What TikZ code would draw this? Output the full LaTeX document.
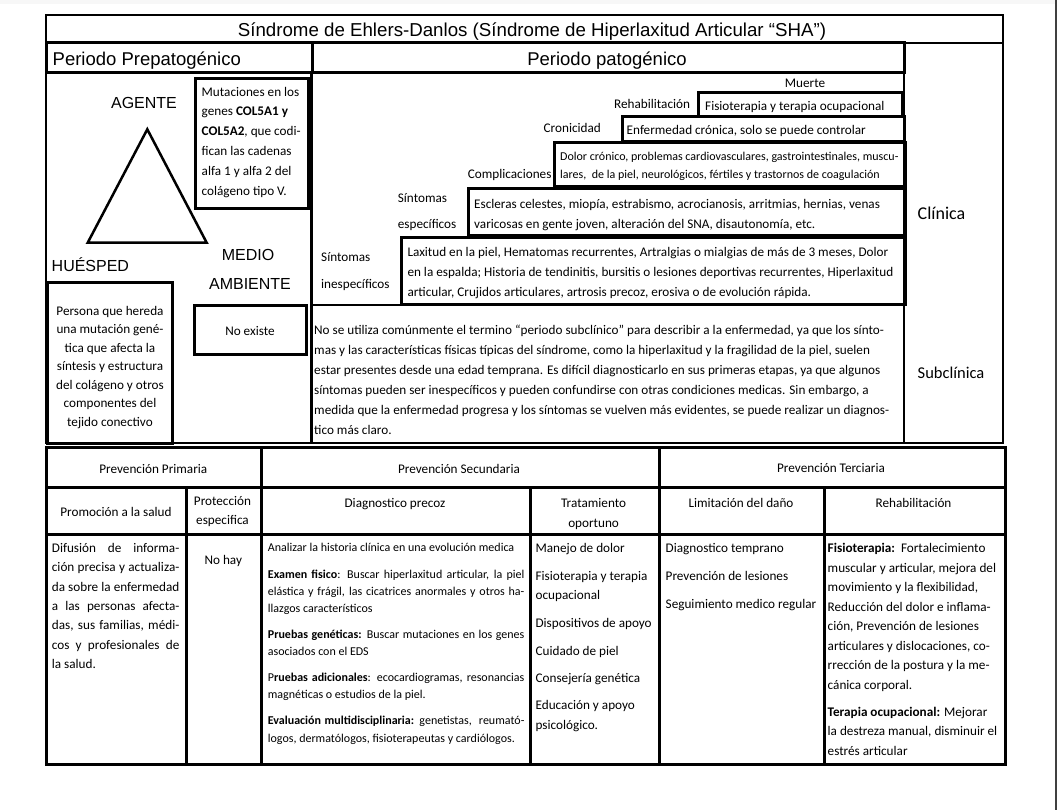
\documentclass[tikz,border=0pt]{standalone}
\usepackage{fontspec}
\setmainfont{Carlito}
\newfontfamily\arial{Liberation Sans}
\newcommand{\J}[2]{\makebox[#1pt][s]{#2}}
\newcommand{\st}[1]{\rule{0pt}{#1pt}}
\begin{document}
\begin{tikzpicture}[x=1pt,y=-1pt,
  bx/.style={line width=3pt},
  tn/.style={line width=2pt},
  lab/.style={inner sep=0pt, anchor=base west},
  labc/.style={inner sep=0pt, anchor=base},
  ml/.style={inner sep=0pt, anchor=north west, align=left},
  mlc/.style={inner sep=0pt, anchor=north, align=center},
  ar/.style={font=\arial\fontsize{18.5}{22}\selectfont},
  ars/.style={font=\arial\fontsize{16}{20}\selectfont},
  cb/.style={font=\fontsize{13.2}{19.6}\selectfont},
]
\useasboundingbox (0,0) rectangle (1057,810);
\fill[white] (0,0) rectangle (1057,810);
\fill[black!3] (0,0) rectangle (1055,4);
\fill[black!75] (1055,0) rectangle (1057,810);

% ---------- top section frame ----------
\draw[tn] (46,15) rectangle (1003,43);
\node[labc, font=\arial\fontsize{18.7}{22}\selectfont] (title) at (532,36.5) {Síndrome de Ehlers-Danlos (Síndrome de Hiperlaxitud Articular “SHA”)};
\draw[tn] (46,43) -- (46,443) -- (1003,443) -- (1003,43);
\draw[bx] (46,43) rectangle (312,73);
\draw[bx] (312,43) rectangle (904,73);
\draw[bx] (311,73) -- (311,443);
\draw[line width=2.5pt] (904,73) -- (904,443);
\node[lab, ar] (prepat) at (52.5,66) {Periodo Prepatogénico};
\node[labc, ar] (pat) at (607,66) {Periodo patogénico};

% ---------- left column ----------
\draw[bx] (195.5,78.5) rectangle (308.5,209);
\node[ml, font=\fontsize{13.2}{19.8}\selectfont] (mut) at (201.5,82.8) {\st{13.2}Mutaciones en los\\genes \textbf{COL5A1 y}\\\textbf{COL5A2}, que codi-\\fican las cadenas\\alfa 1 y alfa 2 del\\colágeno tipo V.};
\draw[line width=2.5pt, line join=miter] (147.3,129.3) -- (87.7,242.7) -- (206.7,242.7) -- cycle;
\node[labc, ars] (agente) at (144,109) {AGENTE};
\node[lab, ars] (huesped) at (51.5,272) {HUÉSPED};
\node[labc, ars] (medio) at (248,261) {MEDIO};
\node[labc, ars] (ambiente) at (250,290) {AMBIENTE};
\draw[bx] (47.5,283) rectangle (172.5,443);
\node[mlc, font=\fontsize{13.2}{18.5}\selectfont] (persona) at (110,301.8) {\st{13.2}Persona que hereda\\una mutación gené-\\tica que afecta la\\síntesis y estructura\\del colágeno y otros\\componentes del\\tejido conectivo};
\draw[bx] (194,305) rectangle (306.5,354);
\node[labc, cb] (noexiste) at (250,335) {No existe};

% ---------- staircase ----------
\node[labc, cb] (muerte) at (805,87.5) {Muerte};
\node[lab, cb] (rehab) at (614,108.5) {Rehabilitación};
\draw[bx] (698,93) rectangle (902,117);
\node[lab, cb] (fisio) at (705,110.5) {Fisioterapia y terapia ocupacional};
\node[lab, cb] (cronic) at (543.5,133) {Cronicidad};
\draw[bx] (622,117) rectangle (904,141.5);
\node[lab, cb] (enf) at (626.5,134.5) {Enfermedad crónica, solo se puede controlar};
\node[lab, cb] (compl) at (467.7,179) {Complicaciones};
\draw[bx] (554,143) rectangle (905,187);
\node[ml, font=\fontsize{12}{17.3}\selectfont] (dolor) at (560,148.6) {\st{12}Dolor crónico, problemas cardiovasculares, gastrointestinales, muscu-\\lares,\ \ de la piel, neurológicos, fértiles y trastornos de coagulación};
\node[ml, font=\fontsize{13.2}{25.5}\selectfont] (sesp) at (397.7,189.5) {\st{13.2}Síntomas\\específicos};
\draw[bx] (468,189) rectangle (905,236);
\node[ml, font=\fontsize{13.2}{20}\selectfont] (escl) at (474,194.8) {\st{13.2}Escleras celestes, miopía, estrabismo, acrocianosis, arritmias, hernias, venas\\varicosas en gente joven, alteración del SNA, disautonomía, etc.};
\node[ml, font=\fontsize{13.2}{27}\selectfont] (sinesp) at (321,247.8) {\st{13.2}Síntomas\\inespecíficos};
\draw[bx] (401,238) rectangle (905,304);
\node[ml, font=\fontsize{13.2}{20}\selectfont] (lax) at (407.3,242.8) {\st{13.2}Laxitud en la piel, Hematomas recurrentes, Artralgias o mialgias de más de 3 meses, Dolor\\en la espalda; Historia de tendinitis, bursitis o lesiones deportivas recurrentes, Hiperlaxitud\\articular, Crujidos articulares, artrosis precoz, erosiva o de evolución rápida.};
\draw[tn] (311,305) rectangle (904,443);
\node[ml, font=\fontsize{13.2}{20}\selectfont] (subtxt) at (314,320.8) {\st{13.2}No se utiliza comúnmente el termino “periodo subclínico” para describir a la enfermedad, ya que los sínto-\\mas y las características físicas típicas del síndrome, como la hiperlaxitud y la fragilidad de la piel, suelen\\estar presentes desde una edad temprana. Es difícil diagnosticarlo en sus primeras etapas, ya que algunos\\síntomas pueden ser inespecíficos y pueden confundirse con otras condiciones medicas. Sin embargo, a\\medida que la enfermedad progresa y los síntomas se vuelven más evidentes, se puede realizar un diagnos-\\tico más claro.};
\node[lab, font=\fontsize{18}{20}\selectfont] (clinica) at (917.5,219.3) {Clínica};
\node[lab, font=\fontsize{16.5}{20}\selectfont] (subclin) at (917.5,378) {Subclínica};

% ---------- prevention table ----------
\draw[bx] (46,447) rectangle (1005,764);
\draw[bx] (46,487.5) -- (1005,487.5);
\draw[bx] (46,534) -- (1005,534);
\draw[bx] (261,447) -- (261,764);
\draw[bx] (659,447) -- (659,764);
\draw[bx] (186,487.5) -- (186,764);
\draw[bx] (530,487.5) -- (530,764);
\draw[bx] (824,487.5) -- (824,764);

\node[labc, cb] (pprim) at (153.3,473) {Prevención Primaria};
\node[labc, cb] (psec) at (459,473) {Prevención Secundaria};
\node[labc, cb] (pter) at (831,472) {Prevención Terciaria};

\node[labc, cb] (promo) at (116,516) {Promoción a la salud};
\node[mlc, font=\fontsize{13.2}{19}\selectfont] (prot) at (222.5,491.8) {\st{13.2}Protección\\especifica};
\node[labc, cb] (diagp) at (395,507) {Diagnostico precoz};
\node[mlc, font=\fontsize{13.2}{20}\selectfont] (trat) at (593.6,493.8) {\st{13.2}Tratamiento\\oportuno};
\node[labc, cb] (limit) at (741,507) {Limitación del daño};
\node[labc, cb] (rehab2) at (913.5,507) {Rehabilitación};

\node[ml, font=\fontsize{13.2}{19.3}\selectfont] (difus) at (51.7,539.1) {\st{13.2}\J{127.5}{Difusión de informa-}\\\J{127.5}{ción precisa y actualiza-}\\\J{127.5}{da sobre la enfermedad}\\\J{127.5}{a las personas afecta-}\\\J{127.5}{das, sus familias, médi-}\\\J{127.5}{cos y profesionales de}\\la salud.};
\node[labc, cb] (nohay) at (223.3,564) {No hay};

\node[lab, font=\fontsize{12}{17.4}\selectfont] (anal) at (267.7,551.8) {Analizar la historia clínica en una evolución medica};
\node[ml, font=\fontsize{12}{17.3}\selectfont] (exam) at (267.7,565.8) {\st{12}\J{256.5}{\textbf{Examen fisico}: Buscar hiperlaxitud articular, la piel}\\\J{256.5}{elástica y frágil, las cicatrices anormales y otros ha-}\\llazgos característicos};
\node[ml, font=\fontsize{12}{17.4}\selectfont] (pgen) at (267.7,625.8) {\st{12}\J{256.5}{\textbf{Pruebas genéticas:} Buscar mutaciones en los genes}\\asociados con el EDS};
\node[ml, font=\fontsize{12}{17.6}\selectfont] (padic) at (267.7,668.8) {\st{12}\J{256.5}{P\textbf{ruebas adicionales}: ecocardiogramas, resonancias}\\magnéticas o estudios de la piel.};
\node[ml, font=\fontsize{12}{17.6}\selectfont] (evalm) at (267.7,712.3) {\st{12}\J{256.5}{\textbf{Evaluación multidisciplinaria:} genetistas,\ \ reumató-}\\logos, dermatólogos, fisioterapeutas y cardiólogos.};

\node[ml, font=\fontsize{13.2}{19.7}\selectfont] (tratlist) at (535.4,539.1) {\st{13.2}Manejo de dolor\\[8pt]Fisioterapia y terapia\\ocupacional\\[8pt]Dispositivos de apoyo\\[8pt]Cuidado de piel\\[7pt]Consejería genética\\[8pt]Educación y apoyo\\psicológico.};
\node[ml, font=\fontsize{13.2}{27.8}\selectfont] (limlist) at (665.5,539.1) {\st{13.2}Diagnostico temprano\\Prevención de lesiones\\Seguimiento medico regular};
\node[ml, font=\fontsize{13.2}{19.5}\selectfont] (rehlist) at (827.5,539.1) {\st{13.2}\textbf{Fisioterapia:}\ \ Fortalecimiento\\muscular y articular, mejora del\\movimiento y la flexibilidad,\\Reducción del dolor e inflama-\\ción, Prevención de lesiones\\articulares y dislocaciones, co-\\rrección de la postura y la me-\\cánica corporal.\\[7.5pt]\textbf{Terapia ocupacional:} Mejorar\\la destreza manual, disminuir el\\estrés articular};
\end{tikzpicture}
\end{document}
